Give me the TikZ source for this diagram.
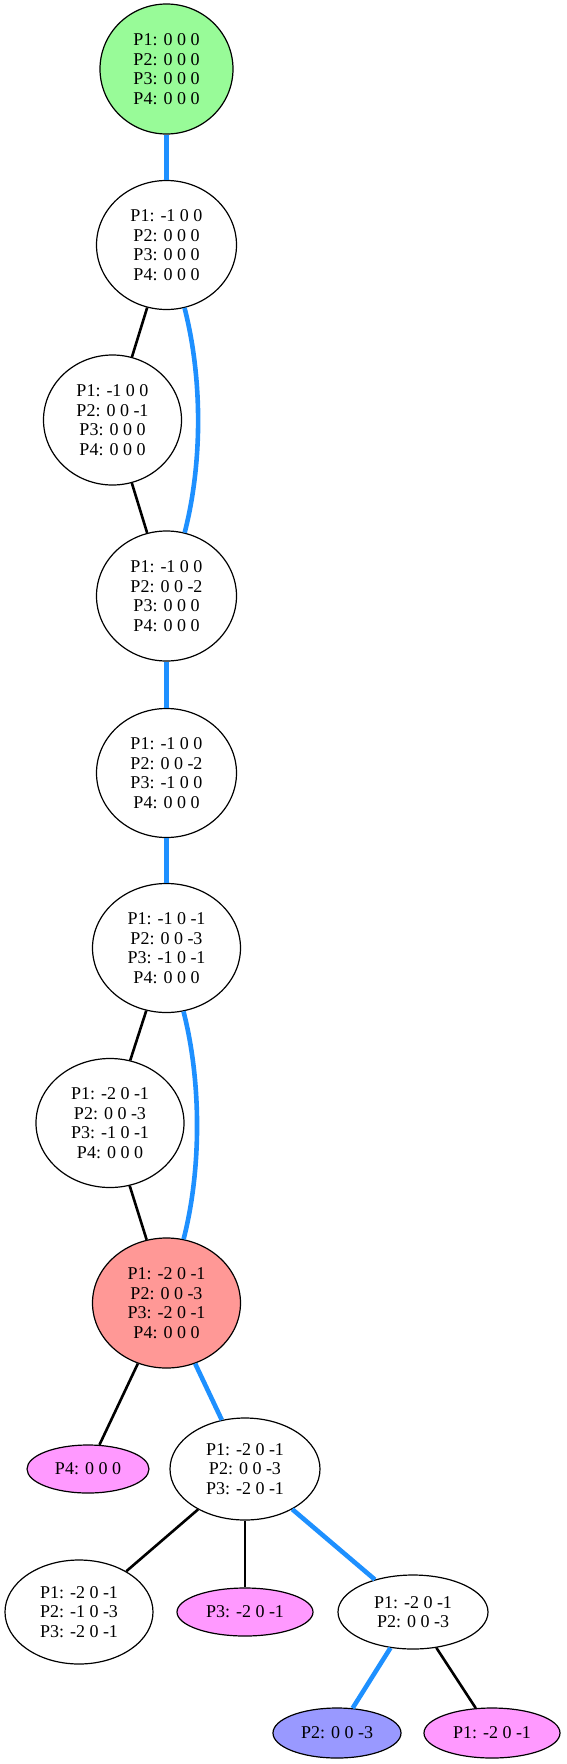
\documentclass[tikz,border=0pt]{standalone}
\usepackage{fontspec}
\setmainfont{Liberation Serif}
\usetikzlibrary{shapes.geometric}
\definecolor{gnode}{HTML}{98FB98}
\definecolor{rnode}{HTML}{FF9896}
\definecolor{mnode}{HTML}{FF99FF}
\definecolor{bnode}{HTML}{9999FF}
\definecolor{bedge}{HTML}{1E90FF}
\tikzset{
  st/.style={ellipse, draw=black, line width=1.2pt, inner sep=0pt, align=center,
    font=\fontsize{18}{19.5}\selectfont},
  blueedge/.style={draw=bedge, line width=4.6pt},
  blackedge/.style={draw=black, line width=2.6pt},
}
\begin{document}
\begin{tikzpicture}[x=1pt,y=-1pt]
\useasboundingbox (0,0) rectangle (566,1764);
\node[st, fill=gnode, minimum width=133, minimum height=130] (n0) at (166.5,69) {P1: 0 0 0\\P2: 0 0 0\\P3: 0 0 0\\P4: 0 0 0};
\node[st, minimum width=140, minimum height=129] (n1) at (166.5,245) {P1: -1 0 0\\P2: 0 0 0\\P3: 0 0 0\\P4: 0 0 0};
\node[st, minimum width=138, minimum height=130] (n2) at (112.5,420) {P1: -1 0 0\\P2: 0 0 -1\\P3: 0 0 0\\P4: 0 0 0};
\node[st, minimum width=140, minimum height=130] (n3) at (166.5,596) {P1: -1 0 0\\P2: 0 0 -2\\P3: 0 0 0\\P4: 0 0 0};
\node[st, minimum width=140, minimum height=129] (n4) at (166.5,773) {P1: -1 0 0\\P2: 0 0 -2\\P3: -1 0 0\\P4: 0 0 0};
\node[st, minimum width=148, minimum height=129] (n5) at (166.5,948) {P1: -1 0 -1\\P2: 0 0 -3\\P3: -1 0 -1\\P4: 0 0 0};
\node[st, minimum width=148, minimum height=129] (n6) at (110,1123) {P1: -2 0 -1\\P2: 0 0 -3\\P3: -1 0 -1\\P4: 0 0 0};
\node[st, fill=rnode, minimum width=148, minimum height=130] (n7) at (166.5,1303) {P1: -2 0 -1\\P2: 0 0 -3\\P3: -2 0 -1\\P4: 0 0 0};
\node[st, fill=mnode, minimum width=122, minimum height=48] (n8) at (88,1469) {P4: 0 0 0};
\node[st, minimum width=150, minimum height=102] (n9) at (245,1469) {P1: -2 0 -1\\P2: 0 0 -3\\P3: -2 0 -1};
\node[st, minimum width=148, minimum height=104] (n10) at (79,1612) {P1: -2 0 -1\\P2: -1 0 -3\\P3: -2 0 -1};
\node[st, fill=mnode, minimum width=136, minimum height=48] (n11) at (245,1612) {P3: -2 0 -1};
\node[st, minimum width=150, minimum height=74] (n12) at (413,1612) {P1: -2 0 -1\\P2: 0 0 -3};
\node[st, fill=bnode, minimum width=128, minimum height=50] (n13) at (337,1733) {P2: 0 0 -3};
\node[st, fill=mnode, minimum width=136, minimum height=50] (n14) at (492,1733) {P1: -2 0 -1};
\draw[blueedge] (n0) -- (n1);
\draw[blackedge] (n1) -- (n2);
\draw[blueedge] (n1.-74) .. controls +(18,70) and +(18,-70) .. (n3.74);
\draw[blackedge] (n2) -- (n3);
\draw[blueedge] (n3) -- (n4);
\draw[blueedge] (n4) -- (n5);
\draw[blackedge] (n5) -- (n6);
\draw[blueedge] (n5.-75) .. controls +(18,70) and +(18,-70) .. (n7.75);
\draw[blackedge] (n6) -- (n7);
\draw[blackedge] (n7) -- (n8);
\draw[blueedge] (n7) -- (n9);
\draw[blackedge] (n9) -- (n10);
\draw[blackedge] (n9) -- (n11);
\draw[blueedge] (n9) -- (n12);
\draw[blueedge] (n12) -- (n13);
\draw[blackedge] (n12) -- (n14);
\end{tikzpicture}
\end{document}
